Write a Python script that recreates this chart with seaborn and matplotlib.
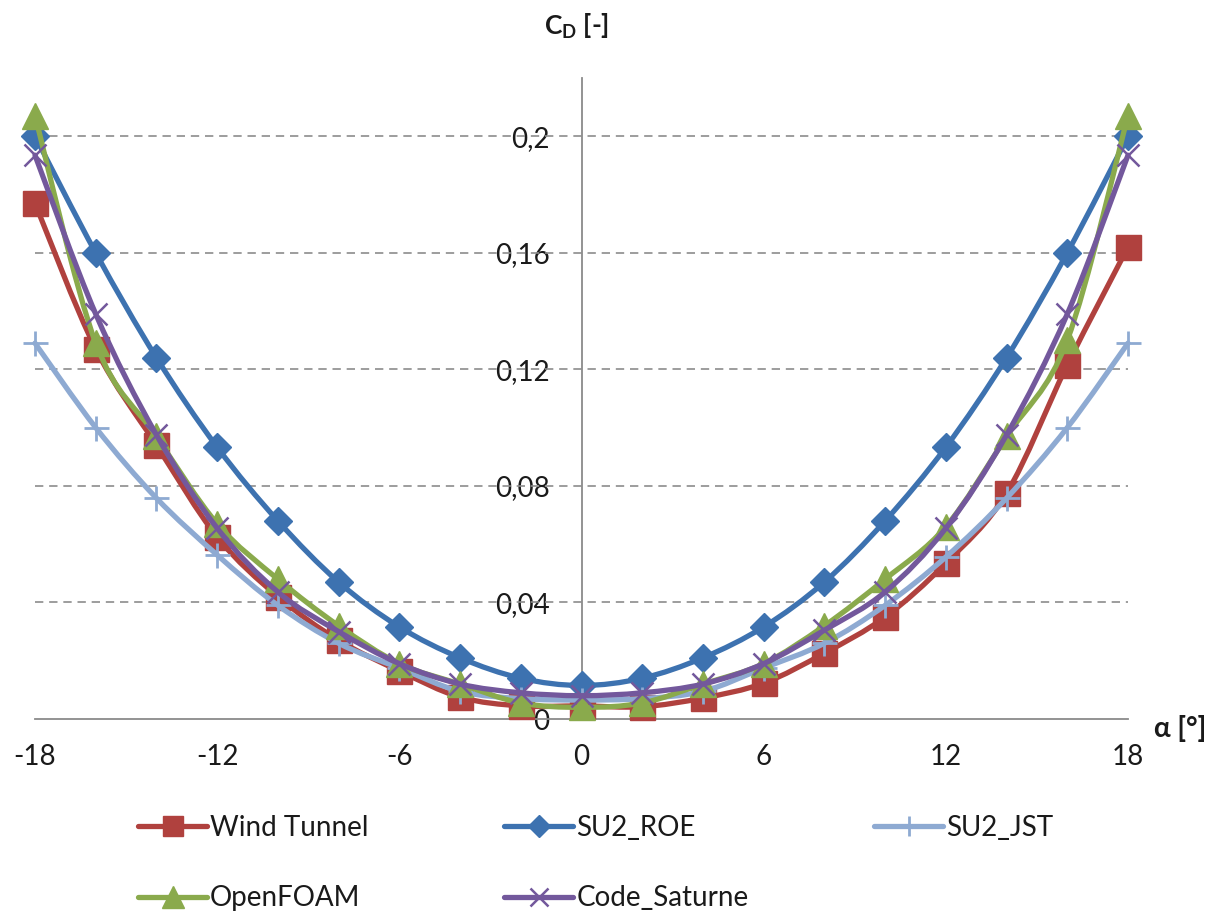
import numpy as np
import matplotlib
matplotlib.use("Agg")
import matplotlib.pyplot as plt
from matplotlib.path import Path
from matplotlib.patches import PathPatch
from matplotlib.lines import Line2D
import seaborn as sns

# Angle of attack [deg]
alpha = [-18, -16, -14, -12, -10, -8, -6, -4, -2, 0, 2, 4, 6, 8, 10, 12, 14, 16, 18]

# Drag coefficient per source
wind_tunnel = [0.177, 0.127, 0.094, 0.0625, 0.042, 0.027, 0.0165, 0.0075, 0.0045, 0.0045,
               0.0042, 0.0072, 0.0123, 0.0226, 0.035, 0.0535, 0.0775, 0.1215, 0.162]
su2_roe = [0.200, 0.160, 0.124, 0.0933, 0.068, 0.047, 0.0316, 0.021, 0.014, 0.0115,
           0.014, 0.021, 0.0316, 0.047, 0.068, 0.0933, 0.124, 0.160, 0.200]
su2_jst = [0.129, 0.100, 0.0758, 0.0563, 0.039, 0.026, 0.0175, 0.0095, 0.007, 0.0065,
           0.007, 0.0095, 0.0175, 0.026, 0.039, 0.0556, 0.0758, 0.100, 0.129]
openfoam = [0.207, 0.129, 0.097, 0.067, 0.048, 0.032, 0.019, 0.012, 0.0055, 0.004,
            0.0055, 0.012, 0.019, 0.032, 0.048, 0.066, 0.097, 0.130, 0.207]
code_saturne = [0.1935, 0.139, 0.0975, 0.0655, 0.0436, 0.030, 0.019, 0.012, 0.009, 0.008,
                0.009, 0.012, 0.019, 0.0305, 0.0436, 0.0655, 0.0975, 0.139, 0.1935]

series_names = ["Wind Tunnel", "SU2_ROE", "SU2_JST", "OpenFOAM", "Code_Saturne"]
series_values = [wind_tunnel, su2_roe, su2_jst, openfoam, code_saturne]

x_ticks = [-18, -12, -6, 0, 6, 12, 18]
y_ticks = [0, 0.04, 0.08, 0.12, 0.16, 0.2]
y_tick_labels = ["0", "0,04", "0,08", "0,12", "0,16", "0,2"]

# Styling per series: colour, marker, marker size, marker edge width
styles = [
    ("#B0413E", "s", 18, 1.0),
    ("#3D72B0", "D", 14.5, 1.0),
    ("#8EAAD2", "+", 18, 2.0),
    ("#8AAA4C", "^", 19, 1.0),
    ("#73589C", "x", 16, 1.8),
]
LINE_W = 3.8
AXIS_GREY = "#8A8A8A"
TEXT_COL = "#1A1A1A"

sns.set_theme(style="white")
plt.rcParams["font.family"] = ["Lato", "DejaVu Sans"]
plt.rcParams["mathtext.fontset"] = "custom"
plt.rcParams["mathtext.rm"] = "Lato"
plt.rcParams["mathtext.bf"] = "Lato:bold"

W, H = 1221, 916
fig = plt.figure(figsize=(W / 100, H / 100), dpi=100)
ax = fig.add_axes([35 / W, 1 - 719 / H, (1128 - 35) / W, (719 - 78) / H])


def smooth_path(x, y):
    """Cubic Bezier path through the points (Catmull-Rom style tangents)."""
    x = np.asarray(x, float)
    y = np.asarray(y, float)
    n = len(x)
    verts = [(x[0], y[0])]
    codes = [Path.MOVETO]
    for i in range(n - 1):
        i0 = max(i - 1, 0)
        i3 = min(i + 2, n - 1)
        c1 = (x[i] + (x[i + 1] - x[i0]) / 6, y[i] + (y[i + 1] - y[i0]) / 6)
        c2 = (x[i + 1] - (x[i3] - x[i]) / 6, y[i + 1] - (y[i3] - y[i]) / 6)
        verts += [c1, c2, (x[i + 1], y[i + 1])]
        codes += [Path.CURVE4] * 3
    return Path(verts, codes)


for i, (name, vals) in enumerate(zip(series_names, series_values)):
    color, marker, ms, mew = styles[i]
    ax.add_patch(PathPatch(smooth_path(alpha, vals), facecolor="none", edgecolor=color,
                           lw=LINE_W, capstyle="round", joinstyle="round",
                           zorder=3 + 2 * i, clip_on=False))
    sns.lineplot(x=alpha, y=vals, ax=ax, color=color, marker=marker, markersize=ms,
                 markeredgewidth=mew, markeredgecolor=color, linestyle="none",
                 errorbar=None, legend=False, zorder=4 + 2 * i, clip_on=False)

ax.set_xlim(-18, 18)
ax.set_ylim(0, 0.22)
ax.set_xlabel("")
ax.set_ylabel("")

# Axes crossing at the origin
for side in ("top", "right"):
    ax.spines[side].set_visible(False)
ax.spines["left"].set_position(("data", 0))
for side in ("left", "bottom"):
    ax.spines[side].set_color(AXIS_GREY)
    ax.spines[side].set_linewidth(1.3)
    ax.spines[side].set_zorder(2)

ax.set_xticks(x_ticks)
ax.set_xticklabels([str(v) for v in x_ticks])
ax.set_yticks(y_ticks)
ax.set_yticklabels(y_tick_labels)
ax.tick_params(axis="x", direction="out", length=9, width=1.3, color=AXIS_GREY,
               pad=9, labelsize=20, labelcolor=TEXT_COL)
ax.tick_params(axis="y", length=0, pad=23, labelsize=20, labelcolor=TEXT_COL)

for yv in y_ticks[1:]:
    ax.axhline(yv, color="#8C8C8C", lw=1.2, ls=(0, (5, 3.5)), zorder=1)

fig.text(577 / W, 1 - 26 / H, r"$\mathbf{C_D}$ [-]", ha="center", va="center",
         fontsize=19, fontweight="bold", color=TEXT_COL)
fig.text(1180 / W, 1 - 728 / H, "α [°]", ha="center", va="center",
         fontsize=20, fontweight="bold", color=TEXT_COL)

# Legend laid out in three equal-width columns
handles = []
for i, name in enumerate(series_names):
    color, marker, ms, mew = styles[i]
    handles.append(Line2D([], [], color=color, lw=LINE_W, marker=marker,
                          markersize=ms * 0.8, markeredgewidth=mew,
                          markeredgecolor=color, solid_capstyle="round"))

columns = [[0, 3], [1, 4], [2]]
col_x = [138, 504, 874]
for idx, cx in zip(columns, col_x):
    fig.legend([handles[k] for k in idx], [series_names[k] for k in idx],
               loc="upper left", bbox_to_anchor=(cx / W, 1 - 815 / H),
               frameon=False, fontsize=20, handlelength=2.5, handletextpad=0.1,
               labelspacing=1.6, borderpad=0, borderaxespad=0, labelcolor=TEXT_COL)

fig.savefig("out.png", dpi=100)
